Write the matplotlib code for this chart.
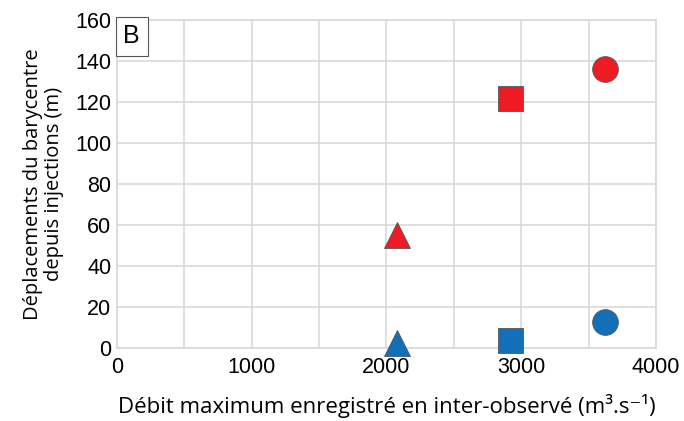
import matplotlib
matplotlib.use("Agg")
import matplotlib.pyplot as plt

# values
debit = [2080, 2920, 3620]
depl_rouge = [55, 122, 136]
depl_bleu = [2.5, 4, 13]
marqueurs = ["^", "s", "o"]
tailles = [19, 18, 18.5]

x_ticks = [0, 1000, 2000, 3000, 4000]
y_ticks = [0, 20, 40, 60, 80, 100, 120, 140, 160]

rouge = "#ED1C24"
bleu = "#1170B9"
gris = "#D9D9D9"

fig = plt.figure(figsize=(6.84, 4.21), dpi=100)
ax = fig.add_axes([0.171, 0.173, 0.788, 0.779])

for x, yr, yb, m, s in zip(debit, depl_rouge, depl_bleu, marqueurs, tailles):
    ax.plot(x, yr, marker=m, markersize=s, color=rouge, markeredgecolor="#555555",
            markeredgewidth=0.6, linestyle="none", clip_on=False, zorder=3)
    ax.plot(x, yb, marker=m, markersize=s, color=bleu, markeredgecolor="#555555",
            markeredgewidth=0.6, linestyle="none", clip_on=False, zorder=3)

ax.set_xlim(0, 4000)
ax.set_ylim(0, 160)
ax.set_xticks(x_ticks)
ax.set_xticks(range(0, 4001, 500), minor=True)
ax.set_yticks(y_ticks)
ax.grid(True, which="both", color=gris, linewidth=1.2)
ax.set_axisbelow(True)
ax.tick_params(which="both", length=0)
ax.tick_params(axis="x", pad=6)
ax.tick_params(axis="y", pad=4)
for sp in ax.spines.values():
    sp.set_color(gris)
    sp.set_linewidth(1.2)

fam_ticks = ["Liberation Sans Narrow", "Liberation Sans", "DejaVu Sans"]
for lab in ax.get_xticklabels() + ax.get_yticklabels():
    lab.set_family(fam_ticks)
    lab.set_fontsize(15.5)

fam_lab = ["Open Sans", "DejaVu Sans"]
ax.set_xlabel("Débit maximum enregistré en inter-observé (m³.s⁻¹)",
              family=fam_lab, fontsize=16, labelpad=12)
ax.set_ylabel("Déplacements du barycentre\ndepuis injections (m)",
              family=fam_lab, fontsize=14.5, labelpad=8, linespacing=1.05)

ax.text(0.012, 0.988, "B", transform=ax.transAxes, ha="left", va="top",
        fontsize=18, family=["Liberation Sans", "DejaVu Sans"],
        bbox=dict(boxstyle="square,pad=0.3", facecolor="white",
                  edgecolor="#555555", linewidth=0.8))

fig.savefig("out.png", dpi=100)
